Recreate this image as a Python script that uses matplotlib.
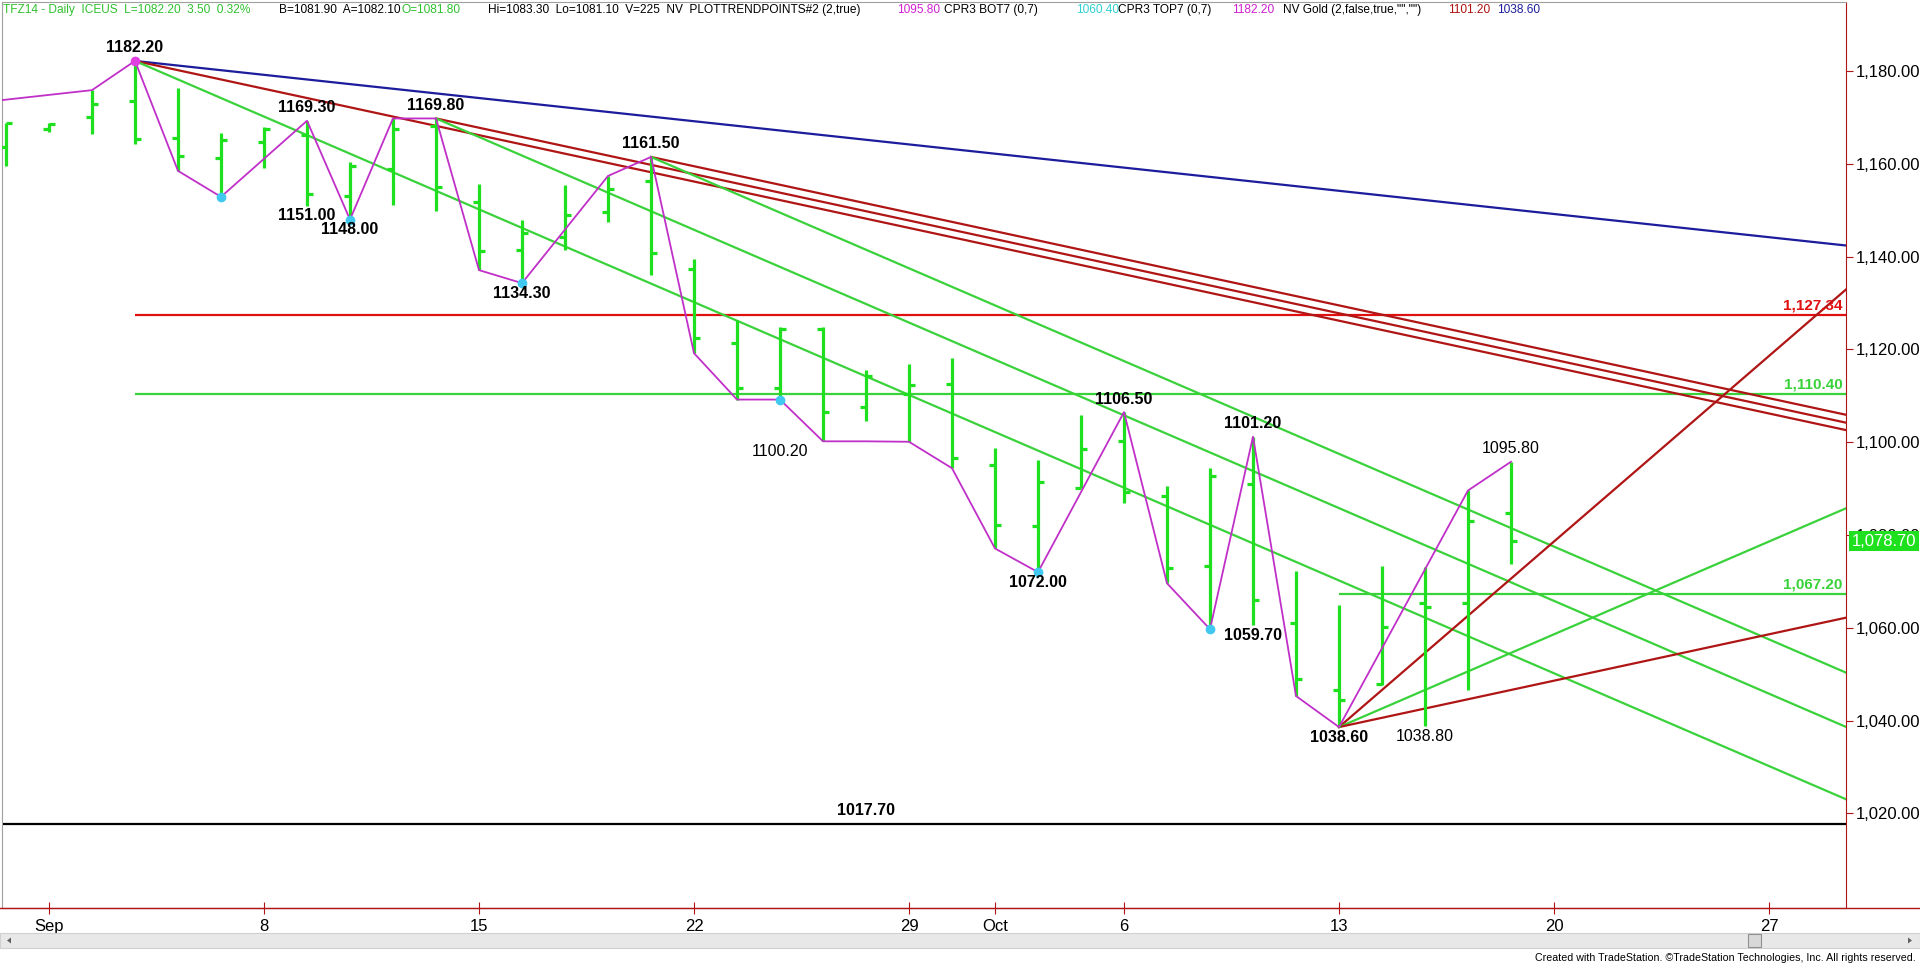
import numpy as np
import pandas as pd
import matplotlib
matplotlib.use('Agg')
import matplotlib.pyplot as plt
from matplotlib import font_manager as fm
from matplotlib.lines import Line2D
from matplotlib.patches import Rectangle, Polygon

# ---- data (TFZ14 daily, ICEUS) ----
dates = pd.bdate_range('2014-08-29', '2014-10-17')
opens = [1163.6, 1167.5, 1170.2, 1173.6, 1165.6, 1161.2, 1164.8, 1166.2, 1153.1,
         1159.0, 1168.1, 1151.8, 1141.4, 1144.3, 1149.7, 1156.4, 1137.3, 1121.5,
         1111.6, 1124.5, 1107.7, 1110.5, 1112.5, 1095.1, 1082.0, 1090.2, 1100.3,
         1088.5, 1073.3, 1091.1, 1061.0, 1046.7, 1047.8, 1065.3, 1065.3, 1084.8]
highs = [1168.9, 1168.9, 1175.9, 1182.2, 1176.3, 1166.6, 1168.0, 1169.3, 1160.5,
         1169.8, 1169.8, 1155.6, 1148.0, 1155.4, 1157.4, 1161.5, 1139.6, 1126.3,
         1124.8, 1124.8, 1115.6, 1116.9, 1118.1, 1098.7, 1096.2, 1105.8, 1106.5,
         1090.6, 1094.4, 1101.2, 1072.3, 1064.9, 1073.4, 1073.2, 1089.6, 1095.8]
lows = [1159.6, 1166.9, 1166.4, 1164.3, 1158.5, 1152.9, 1159.2, 1151.0, 1148.0,
        1151.1, 1149.9, 1137.1, 1134.3, 1141.4, 1147.5, 1136.0, 1119.2, 1109.2,
        1109.2, 1100.2, 1104.6, 1100.1, 1094.4, 1077.1, 1072.0, 1090.1, 1087.0,
        1069.6, 1059.7, 1060.5, 1045.3, 1038.6, 1047.7, 1038.8, 1046.6, 1073.7]
closes = [1168.8, 1168.5, 1172.9, 1165.3, 1161.6, 1165.1, 1167.6, 1153.6, 1159.5,
          1167.6, 1155.1, 1141.3, 1145.0, 1149.0, 1154.5, 1140.7, 1122.4, 1111.8,
          1124.5, 1106.6, 1114.3, 1112.3, 1096.7, 1082.2, 1091.4, 1098.5, 1089.3,
          1072.8, 1092.7, 1066.0, 1048.9, 1044.4, 1060.1, 1064.4, 1083.0, 1078.7]
last_price = 1078.70

# trend points (zigzag)
zz_dates = ['2014-08-27', '2014-09-02', '2014-09-03', '2014-09-04', '2014-09-05',
            '2014-09-09', '2014-09-10', '2014-09-11', '2014-09-12', '2014-09-15',
            '2014-09-16', '2014-09-18', '2014-09-19', '2014-09-22', '2014-09-23',
            '2014-09-24', '2014-09-25', '2014-09-26', '2014-09-29', '2014-09-30',
            '2014-10-01', '2014-10-02', '2014-10-06', '2014-10-07', '2014-10-08',
            '2014-10-09', '2014-10-10', '2014-10-13', '2014-10-16', '2014-10-17']
zz_prices = [1171.8, 1175.9, 1182.2, 1158.5, 1152.9, 1169.3, 1148.0, 1169.8, 1169.8,
             1137.1, 1134.3, 1157.4, 1161.5, 1119.2, 1109.2, 1109.2, 1100.2, 1100.2,
             1100.1, 1094.4, 1077.1, 1072.0, 1106.5, 1069.6, 1059.7, 1101.2, 1045.3,
             1038.6, 1089.6, 1095.8]
low_dots = ['2014-09-05', '2014-09-10', '2014-09-16', '2014-09-24', '2014-10-02', '2014-10-08']
low_dot_prices = [1152.9, 1148.0, 1134.3, 1109.2, 1072.0, 1059.7]

# swing labels: date, price, text, above?
lbl_dates = ['2014-09-03', '2014-09-09', '2014-09-12', '2014-09-19', '2014-09-09',
             '2014-09-10', '2014-09-16', '2014-09-24', '2014-10-02', '2014-10-06',
             '2014-10-09', '2014-10-09', '2014-10-13', '2014-10-15', '2014-10-17']
lbl_prices = [1182.2, 1169.3, 1169.8, 1161.5, 1151.0, 1148.0, 1134.3, 1100.2, 1072.0,
              1106.5, 1101.2, 1060.5, 1038.6, 1038.8, 1095.8]
lbl_texts = ['1182.20', '1169.30', '1169.80', '1161.50', '1151.00', '1148.00', '1134.30',
             '1100.20', '1072.00', '1106.50', '1101.20', '1059.70', '1038.60', '1038.80',
             '1095.80']
lbl_above = [True, True, True, True, False, False, False, False, False, True, True,
             False, False, False, True]

# angle lines: anchor date, anchor price, slope (points per bar)
blue_anchor, blue_price, blue_slope = '2014-09-03', 1182.2, -1.0
red_anchors = ['2014-09-03', '2014-09-12', '2014-09-19']
red_prices = [1182.2, 1169.8, 1161.5]
red_slope = -2.0
green_anchors = ['2014-09-03', '2014-09-12', '2014-09-19']
green_prices = [1182.2, 1169.8, 1161.5]
green_slope = -4.0
fan_anchor, fan_price = '2014-10-13', 1038.6
fan_slopes = [8.0, 4.0, 2.0]

# horizontal levels
lvl_red, lvl_red_from = 1127.34, '2014-09-03'
lvl_green, lvl_green_from = 1110.40, '2014-09-03'
lvl_green2, lvl_green2_from = 1067.20, '2014-10-13'
lvl_black = 1017.70

tick_dates = ['2014-09-01', '2014-09-08', '2014-09-15', '2014-09-22', '2014-09-29',
              '2014-10-01', '2014-10-06', '2014-10-13', '2014-10-20', '2014-10-27']
tick_labels = ['Sep', '8', '15', '22', '29', 'Oct', '6', '13', '20', '27']

# ---- helpers ----
base = '2014-09-01'
def bar_idx(d):
    d = np.atleast_1d(np.array(d, dtype='datetime64[D]'))
    return np.busday_count(base, d).astype(float)

names = {f.name for f in fm.fontManager.ttflist}
narrow = 'Liberation Sans Narrow' if 'Liberation Sans Narrow' in names else 'Liberation Sans'
hdr_size = 10.5 if narrow == 'Liberation Sans Narrow' else 8.6
cr_size = 9.5 if narrow == 'Liberation Sans Narrow' else 7.7
plt.rcParams['font.family'] = ['Liberation Sans', 'DejaVu Sans']

bar_green = '#1ee01e'
line_green = '#3ad23a'
dark_red = '#b01515'
red = '#e01010'
magenta = '#c030c8'
navy = '#1c1c9c'
cyan = '#40c8f0'

W, H = 1920, 964
fig = plt.figure(figsize=(W / 100, H / 100), dpi=100)
ax = fig.add_axes([2 / W, 56 / H, 1844 / W, 906 / H])
ax.set_xlim((2 - 49) / 43, (1846 - 49) / 43)
ax.set_ylim(999.6, 1194.9)
x0, x1 = ax.get_xlim()

x = bar_idx(dates)
ax.vlines(x, lows, highs, color=bar_green, lw=2.3, zorder=3)
ax.hlines(opens, x - 0.14, x, color=bar_green, lw=2.3, zorder=3)
ax.hlines(closes, x, x + 0.14, color=bar_green, lw=2.3, zorder=3)

# horizontal levels
ax.hlines(lvl_red, bar_idx(lvl_red_from)[0], x1, color=red, lw=1.6, zorder=2)
ax.hlines(lvl_green, bar_idx(lvl_green_from)[0], x1, color=line_green, lw=1.6, zorder=2)
ax.hlines(lvl_green2, bar_idx(lvl_green2_from)[0], x1, color=line_green, lw=1.6, zorder=2)
ax.hlines(lvl_black, x0, x1, color='black', lw=1.6, zorder=2)

def angle_line(d, p, slope, color):
    xs = bar_idx(d)[0]
    ax.plot([xs, x1], [p, p + slope * (x1 - xs)], color=color, lw=1.6, zorder=2)

angle_line(blue_anchor, blue_price, blue_slope, navy)
for d, p in zip(red_anchors, red_prices):
    angle_line(d, p, red_slope, dark_red)
for d, p in zip(green_anchors, green_prices):
    angle_line(d, p, green_slope, line_green)
for s, c in zip(fan_slopes, [dark_red, line_green, dark_red]):
    angle_line(fan_anchor, fan_price, s, c)

# zigzag + pivots
ax.plot(bar_idx(zz_dates), zz_prices, color=magenta, lw=1.3, zorder=4)
ax.plot(bar_idx(low_dots), low_dot_prices, 'o', color=cyan, ms=6, zorder=5)
ax.plot(bar_idx('2014-09-03'), [1182.2], 'o', color='#e040e0', ms=6, zorder=5)

for d, p, t, up in zip(lbl_dates, lbl_prices, lbl_texts, lbl_above):
    wt = 'normal' if t in ('1038.80', '1095.80', '1100.20') else 'bold'
    ax.annotate(t, (bar_idx(d)[0], p), xytext=(0, 4 if up else -2),
                textcoords='offset points', ha='center', va='bottom' if up else 'top',
                fontsize=11.5, fontweight=wt, color='black', zorder=6)

ax.annotate('1017.70', (bar_idx('2014-09-26')[0], lvl_black), xytext=(0, 4),
            textcoords='offset points', ha='center', va='bottom', fontsize=11.5,
            fontweight='bold')
for v, c in [(lvl_red, red), (lvl_green, line_green), (lvl_green2, line_green)]:
    ax.annotate(f'{v:,.2f}', (x1 - 0.08, v), xytext=(0, 2), textcoords='offset points',
                ha='right', va='bottom', fontsize=11, fontweight='bold', color=c, zorder=6)

# axes styling
for side in ['left', 'top']:
    ax.spines[side].set_color('#a0a0a0')
ax.spines['right'].set_color(dark_red)
ax.spines['bottom'].set_color(dark_red)
ax.yaxis.tick_right()
yt = np.arange(1020, 1181, 20)
ax.set_yticks(yt)
ax.set_yticklabels([f'{v:,.2f}' for v in yt])
ax.tick_params(axis='y', direction='out', length=5, color=dark_red, labelsize=12, pad=2)
ax.set_xticks(bar_idx(tick_dates))
ax.set_xticklabels(tick_labels)
ax.tick_params(axis='x', direction='inout', length=8, color=dark_red, labelsize=12, pad=4)

ax.annotate(f'{last_price:,.2f}', (1, last_price), xycoords=('axes fraction', 'data'),
            xytext=(4, 0), textcoords='offset points', ha='left', va='center',
            fontsize=12, color='white', zorder=10, annotation_clip=False,
            bbox=dict(boxstyle='square,pad=0.15', fc=bar_green, ec='none'))

# header
hdr = [(3, 'TFZ14 - Daily  ICEUS  L=1082.20  3.50  0.32%', '#30c030'),
       (279, 'B=1081.90  A=1082.10', 'black'),
       (401, 'O=1081.80', '#30c030'),
       (488, 'Hi=1083.30  Lo=1081.10  V=225  NV  PLOTTRENDPOINTS#2 (2,true)', 'black'),
       (897, '1095.80', '#d020d0'),
       (944, 'CPR3 BOT7 (0,7)', 'black'),
       (1076, '1060.40', '#30d0d0'),
       (1118, 'CPR3 TOP7 (0,7)', 'black'),
       (1232, '1182.20', '#d020d0'),
       (1283, 'NV Gold (2,false,true,"","")', 'black'),
       (1448, '1101.20', '#b01010'),
       (1497, '1038.60', navy)]
for px, t, c in hdr:
    fig.text(px / W, 1 - 10 / H, t, ha='left', va='center', fontsize=hdr_size,
             family=narrow, color=c)

# bottom strip: axis line across, scrollbar, credits
fig.add_artist(Line2D([0, 1], [56 / H, 56 / H], color=dark_red, lw=1))
fig.add_artist(Rectangle((0, 16 / H), 1, 15 / H, transform=fig.transFigure,
                         fc='#e8e8e8', ec='#d0d0d0', lw=0.8))
fig.add_artist(Rectangle((1748 / W, 17 / H), 13 / W, 13 / H, transform=fig.transFigure,
                         fc='#d8d8d8', ec='#909090', lw=0.8))
fig.add_artist(Polygon([[7 / W, 23.5 / H], [11 / W, 26.5 / H], [11 / W, 20.5 / H]],
                       closed=True, transform=fig.transFigure, fc='#606060', ec='none'))
fig.add_artist(Polygon([[1912 / W, 23.5 / H], [1908 / W, 26.5 / H], [1908 / W, 20.5 / H]],
                       closed=True, transform=fig.transFigure, fc='#606060', ec='none'))
fig.text(1916 / W, 6 / H, 'Created with TradeStation. \u00a9TradeStation Technologies, Inc. All rights reserved.',
         ha='right', va='center', fontsize=cr_size, family=narrow, color='black')

fig.savefig('out.png', dpi=100)
